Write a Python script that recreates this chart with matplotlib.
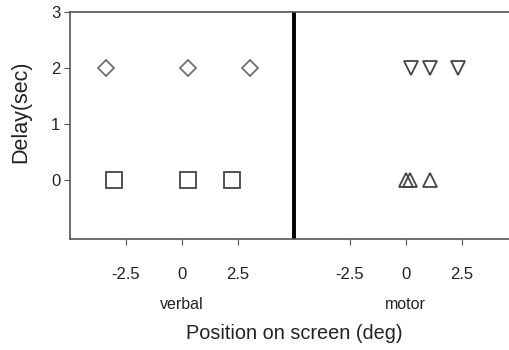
import numpy as np
import matplotlib.pyplot as plt

plt.rcParams['font.family'] = ['Liberation Sans', 'DejaVu Sans']

# verbal condition (positions in deg)
verbal_delay2_x = [-3.4, 0.27, 3.04]
verbal_delay0_x = [-3.04, 0.27, 2.23]
# motor condition (positions in deg)
motor_delay2_x = [0.22, 1.07, 2.32]
motor_delay0_x = [0.0, 0.18, 1.07]

motor_offset = 10  # motor panel drawn shifted right on same axis
tick_vals = [-2.5, 0, 2.5]
tick_labels = ['-2.5', '0', '2.5']

fig = plt.figure(figsize=(5.1, 3.5), dpi=100)
ax = fig.add_axes([0.137, 0.317, 0.863, 0.649])

gray = '#555555'
txt = '#222222'
ax.plot(verbal_delay2_x, [2] * 3, 'D', ms=8.5, mfc='none', mec='#707070', mew=1.3, ls='none')
ax.plot(verbal_delay0_x, [0] * 3, 's', ms=11.5, mfc='none', mec='#444444', mew=1.3, ls='none')
ax.plot(np.array(motor_delay2_x) + motor_offset, [2] * 3, 'v', ms=10.5, mfc='none', mec='#444444', mew=1.3, ls='none')
ax.plot(np.array(motor_delay0_x) + motor_offset, [0] * 3, '^', ms=10.5, mfc='none', mec='#444444', mew=1.3, ls='none')

ax.axvline(5, color='black', lw=2.8)

ax.set_xlim(-5, 14.65)
ax.set_ylim(-1.05, 3)
ax.set_yticks([0, 1, 2, 3])
ax.set_xticks(tick_vals + [v + motor_offset for v in tick_vals])
ax.set_xticklabels(tick_labels * 2)
ax.tick_params(axis='x', direction='out', length=4, pad=16, labelsize=12, color=gray, labelcolor=txt)
ax.tick_params(axis='y', direction='out', length=4, pad=3, labelsize=12, color=gray, labelcolor=txt)

for s in ['left', 'top', 'bottom']:
    ax.spines[s].set_color(gray)
    ax.spines[s].set_linewidth(1.2)
ax.spines['right'].set_visible(False)

fig.text(21 / 510, 0.68, 'Delay(sec)', rotation=90, ha='center', va='center', fontsize=15.5, color=txt)
ax.text(0, -2.21, 'verbal', ha='center', va='center', fontsize=11.5, color=txt)
ax.text(motor_offset, -2.21, 'motor', ha='center', va='center', fontsize=11.5, color=txt)
ax.text(5, -2.73, 'Position on screen (deg)', ha='center', va='center', fontsize=14.3, color=txt)

fig.savefig('out.png', dpi=100)
